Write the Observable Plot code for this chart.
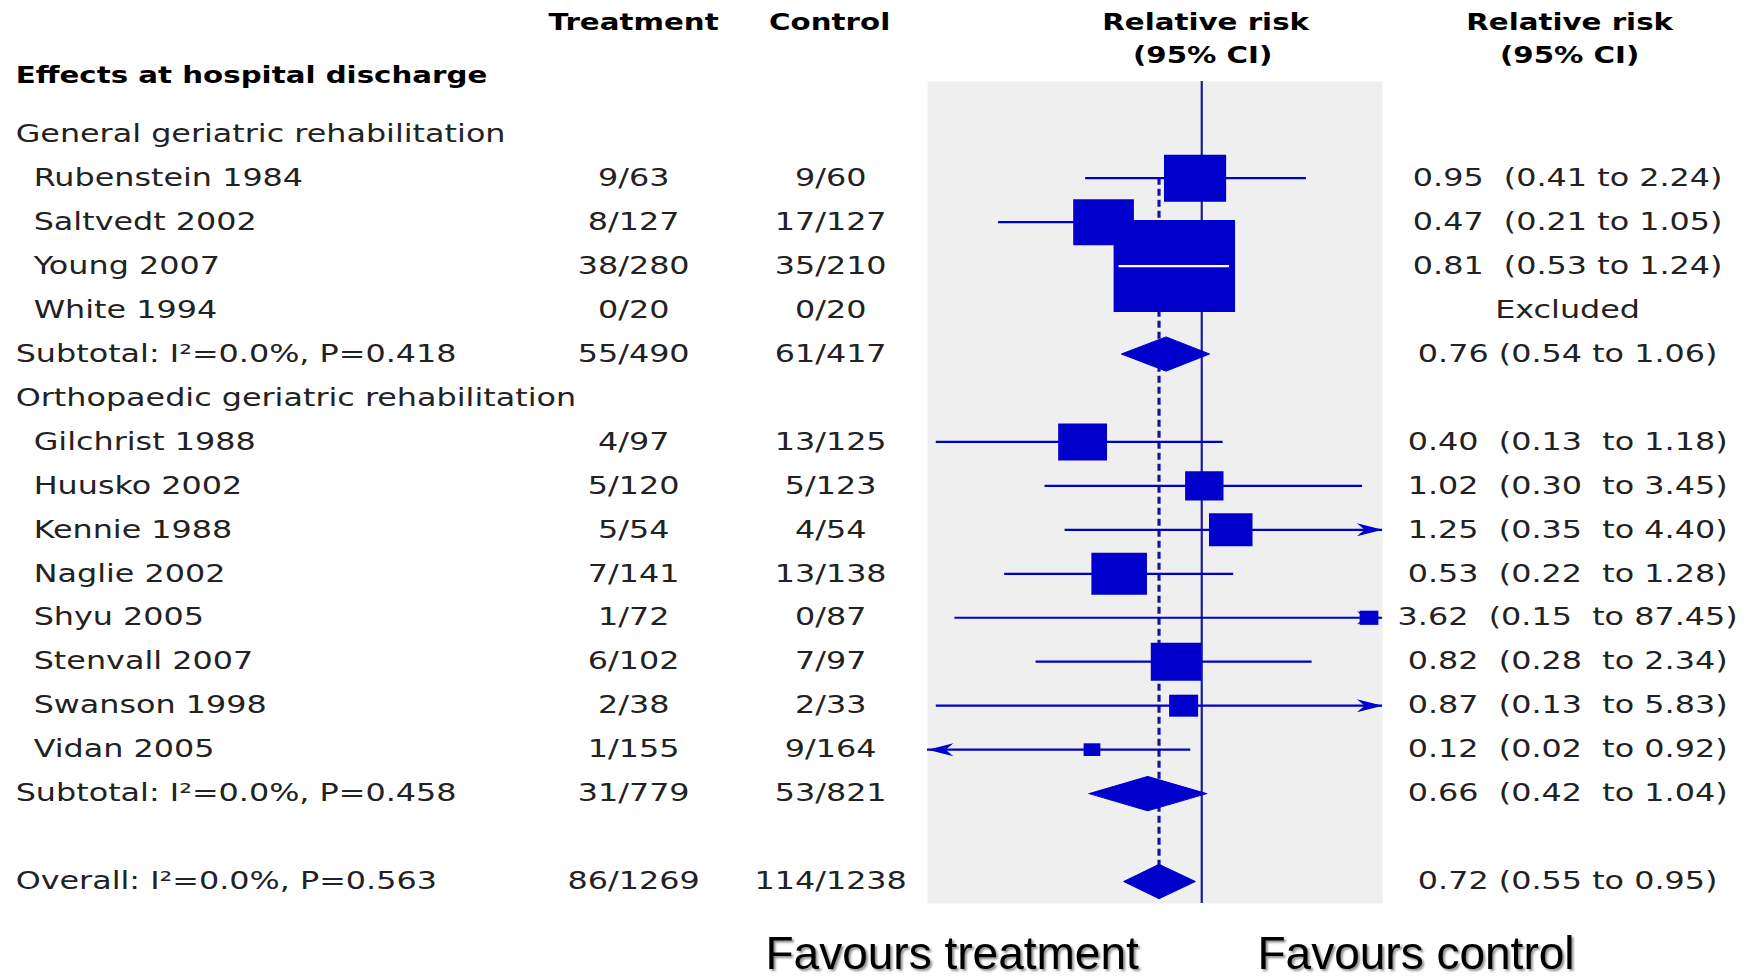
<!DOCTYPE html>
<html>
<head>
<meta charset="utf-8">
<script src="https://cdn.jsdelivr.net/npm/d3@7"></script>
<script src="https://cdn.jsdelivr.net/npm/@observablehq/plot@0.6"></script>
<style>
  html, body { margin: 0; padding: 0; background: #fff; }
  #wrap { position: relative; width: 1755px; height: 979px; overflow: hidden; }
  #wrap > svg { position: absolute; left: 0; top: 0; }
  svg text { white-space: pre; }
  g[aria-label="counts"] text { letter-spacing: 1.2px; }
</style>
</head>
<body>
<div id="wrap"></div>
<script>
// ---------------- data ----------------
const rowLabels = [
  "General geriatric rehabilitation",
  "Rubenstein 1984", "Saltvedt 2002", "Young 2007", "White 1994",
  "Subtotal: I²=0.0%, P=0.418",
  "Orthopaedic geriatric rehabilitation",
  "Gilchrist 1988", "Huusko 2002", "Kennie 1988", "Naglie 2002",
  "Shyu 2005", "Stenvall 2007", "Swanson 1998", "Vidan 2005",
  "Subtotal: I²=0.0%, P=0.458",
  "",
  "Overall: I²=0.0%, P=0.563"
];
const rowKind = [
  "group", "study", "study", "study", "study", "subtotal",
  "group", "study", "study", "study", "study", "study", "study", "study", "study", "subtotal",
  "blank", "overall"
];
const treatment = ["", "9/63", "8/127", "38/280", "0/20", "55/490", "", "4/97", "5/120", "5/54", "7/141", "1/72", "6/102", "2/38", "1/155", "31/779", "", "86/1269"];
const control   = ["", "9/60", "17/127", "35/210", "0/20", "61/417", "", "13/125", "5/123", "4/54", "13/138", "0/87", "7/97", "2/33", "9/164", "53/821", "", "114/1238"];
const relRisk   = [null, 0.95, 0.47, 0.81, null, 0.76, null, 0.40, 1.02, 1.25, 0.53, 3.62, 0.82, 0.87, 0.12, 0.66, null, 0.72];
const ciLow     = [null, 0.41, 0.21, 0.53, null, 0.54, null, 0.13, 0.30, 0.35, 0.22, 0.15, 0.28, 0.13, 0.02, 0.42, null, 0.55];
const ciHigh    = [null, 2.24, 1.05, 1.24, null, 1.06, null, 1.18, 3.45, 4.40, 1.28, 87.45, 2.34, 5.83, 0.92, 1.04, null, 0.95];
// where the study marker is drawn in the reference (Vidan's marker sits away from its printed estimate)
const markerAt  = [null, 0.95, 0.47, 0.81, null, null, null, 0.40, 1.02, 1.25, 0.53, 3.62, 0.82, 0.87, 0.43, null, null, null];
// study weights (%)
const weight    = [null, 11.0, 10.5, 42.0, null, null, null, 6.8, 4.2, 5.4, 8.8, 1.0, 7.2, 2.4, 0.8, null, null, null];
const rrText = [
  "", "0.95  (0.41 to 2.24)", "0.47  (0.21 to 1.05)", "0.81  (0.53 to 1.24)", "Excluded",
  "0.76 (0.54 to 1.06)", "",
  "0.40  (0.13  to 1.18)", "1.02  (0.30  to 3.45)", "1.25  (0.35  to 4.40)", "0.53  (0.22  to 1.28)",
  "3.62  (0.15  to 87.45)", "0.82  (0.28  to 2.34)", "0.87  (0.13  to 5.83)", "0.12  (0.02  to 0.92)",
  "0.66  (0.42  to 1.04)", "", "0.72 (0.55 to 0.95)"
];
const sectionTitle = "Effects at hospital discharge";
const columnHeaders = ["Treatment", "Control"];
const rrHeader = ["Relative risk", "(95% CI)"];
const footLabels = ["Favours treatment", "Favours control"];
const xDomain = [0.1215, 4.02];

// ---------------- layout ----------------
const S = 1.32;                 // horizontal stretch of the reference
const FW = 1755, FH = 979;
const panelL = 927, panelR = 1382, panelT = 81, panelB = 903;
const W = FW / S;
const ml = panelL / S, mr = (FW - panelR) / S;
const yDomain = [-1.2, 17.5];
const H = 0.39;                 // diamond half height (rows)
const RMAX = 92 / Math.sqrt(Math.PI);
const BLUE = "#0000cc", NAVY = "#14149c";
const BODY = {fontFamily: "DejaVu Sans", fontSize: 24.1, fill: "#222"};
const HEAD = {fontFamily: "DejaVu Sans", fontSize: 22.2, fontWeight: "bold", fill: "#000"};
const dxOf = px => (px - panelL) / S;

const rows = rowLabels.map((label, i) => ({
  i, label, kind: rowKind[i], t: treatment[i], c: control[i],
  rr: relRisk[i], lo: ciLow[i], hi: ciHigh[i], at: markerAt[i], w: weight[i], txt: rrText[i]
}));
const studies = rows.filter(d => d.kind === "study" && d.rr != null);
const pooled = rows.filter(d => d.kind === "subtotal" || d.kind === "overall");
const overall = rows.find(d => d.kind === "overall");
const firstStudy = d3.min(studies, d => d.i);

const diamonds = pooled.flatMap(d => [
  {id: d.i, x: d.lo, y: d.i}, {id: d.i, x: d.rr, y: d.i - H},
  {id: d.i, x: d.hi, y: d.i}, {id: d.i, x: d.rr, y: d.i + H}
]);

const [xmin, xmax] = xDomain;
const heads = [
  ...studies.filter(d => d.lo < xmin).map(d => ({x: xmin, y: d.i, dir: 180})),
  ...studies.filter(d => d.hi > xmax).map(d => ({x: xmax, y: d.i, dir: 0}))
];
const arrowHead = {
  draw(ctx) {
    const L = 19.5, Wd = 6.5;
    ctx.moveTo(0, 0);
    ctx.lineTo(-L, -Wd);
    ctx.lineTo(-0.7 * L, 0);
    ctx.lineTo(-L, Wd);
    ctx.closePath();
  }
};

// CI lines fully hidden inside their marker are redrawn in white
const xs = d3.scaleLog(xDomain, [ml, W - mr]);
const rs = d3.scaleSqrt([0, d3.max(weight)], [0, RMAX]);
const inner = studies.filter(d => {
  const half = rs(d.w) * Math.sqrt(Math.PI) / 2;
  return xs(d.at) - xs(d.lo) < half && xs(d.hi) - xs(d.at) < half;
});

function header(label, cx, cy, extra = {}) {
  return Plot.text([label], {
    frameAnchor: "top-left", text: d => d, dx: dxOf(cx), dy: cy - panelT,
    textAnchor: "middle", lineAnchor: "middle", ...HEAD, ...extra
  });
}

const chart = Plot.plot({
  width: W, height: FH,
  marginLeft: ml, marginRight: mr, marginTop: panelT, marginBottom: FH - panelB,
  x: {type: "log", domain: xDomain, clamp: true, axis: null},
  y: {domain: yDomain, reverse: true, axis: null},
  r: {type: "sqrt", domain: [0, d3.max(weight)], range: [0, RMAX]},
  style: {background: "transparent", overflow: "visible"},
  marks: [
    Plot.frame({fill: "#efefef", stroke: "none"}),
    Plot.ruleX([1], {stroke: NAVY, strokeWidth: 1.6}),
    Plot.ruleX([overall], {x: "rr", y1: () => firstStudy, y2: d => d.i + H,
      stroke: NAVY, strokeWidth: 2.4, strokeDasharray: "7,4"}),
    Plot.ruleY(studies, {y: "i", x1: "lo", x2: "hi", stroke: BLUE, strokeWidth: 2.2}),
    Plot.dot(heads, {x: "x", y: "y", symbol: arrowHead, r: 5, rotate: "dir", fill: BLUE, stroke: "none"}),
    Plot.dot(studies, {x: "at", y: "i", r: "w", symbol: "square", fill: BLUE, stroke: "none"}),
    Plot.ruleY(inner, {y: "i", x1: "lo", x2: "hi", stroke: "white", strokeWidth: 2.2}),
    Plot.line(diamonds, {x: "x", y: "y", z: "id", curve: "linear-closed", fill: BLUE, stroke: BLUE, strokeWidth: 1}),
    // left labels
    Plot.text(rows.filter(d => d.label && d.kind !== "study"), {frameAnchor: "left", y: "i", text: "label", textAnchor: "start", dx: dxOf(15), ...BODY}),
    Plot.text(rows.filter(d => d.kind === "study"), {frameAnchor: "left", y: "i", text: "label", textAnchor: "start", dx: dxOf(33), ...BODY}),
    Plot.text(rows.filter(d => d.t), {frameAnchor: "left", y: "i", text: "t", textAnchor: "middle", dx: dxOf(633), ariaLabel: "counts", ...BODY}),
    Plot.text(rows.filter(d => d.c), {frameAnchor: "left", y: "i", text: "c", textAnchor: "middle", dx: dxOf(830), ariaLabel: "counts", ...BODY}),
    Plot.text(rows.filter(d => d.txt), {frameAnchor: "left", y: "i", text: "txt", textAnchor: "middle", dx: dxOf(1567), ...BODY}),
    // headers
    header(sectionTitle, 15, 75, {textAnchor: "start"}),
    header(columnHeaders[0], 633, 22),
    header(columnHeaders[1], 829, 22),
    header(rrHeader[0], 1205, 22),
    header(rrHeader[1], 1202, 55),
    header(rrHeader[0], 1569, 22),
    header(rrHeader[1], 1569, 55)
  ]
});
chart.style.transform = `scaleX(${S})`;
chart.style.transformOrigin = "0 0";
chart.style.maxWidth = "none";

const foot = Plot.plot({
  width: FW, height: FH, margin: 0,
  x: {axis: null}, y: {axis: null},
  style: {background: "transparent", filter: "drop-shadow(2px 2px 1.2px rgba(0,0,0,0.45))"},
  marks: [
    Plot.text([footLabels[0]], {frameAnchor: "top-left", text: d => d, dx: 765, dy: 954, textAnchor: "start", lineAnchor: "middle", fontFamily: "Liberation Sans", fontSize: 46, fill: "#000"}),
    Plot.text([footLabels[1]], {frameAnchor: "top-left", text: d => d, dx: 1257, dy: 954, textAnchor: "start", lineAnchor: "middle", fontFamily: "Liberation Sans", fontSize: 46, fill: "#000"})
  ]
});
foot.style.pointerEvents = "none";
foot.style.maxWidth = "none";

const wrap = document.getElementById("wrap");
wrap.appendChild(chart);
wrap.appendChild(foot);
</script>
</body>
</html>
